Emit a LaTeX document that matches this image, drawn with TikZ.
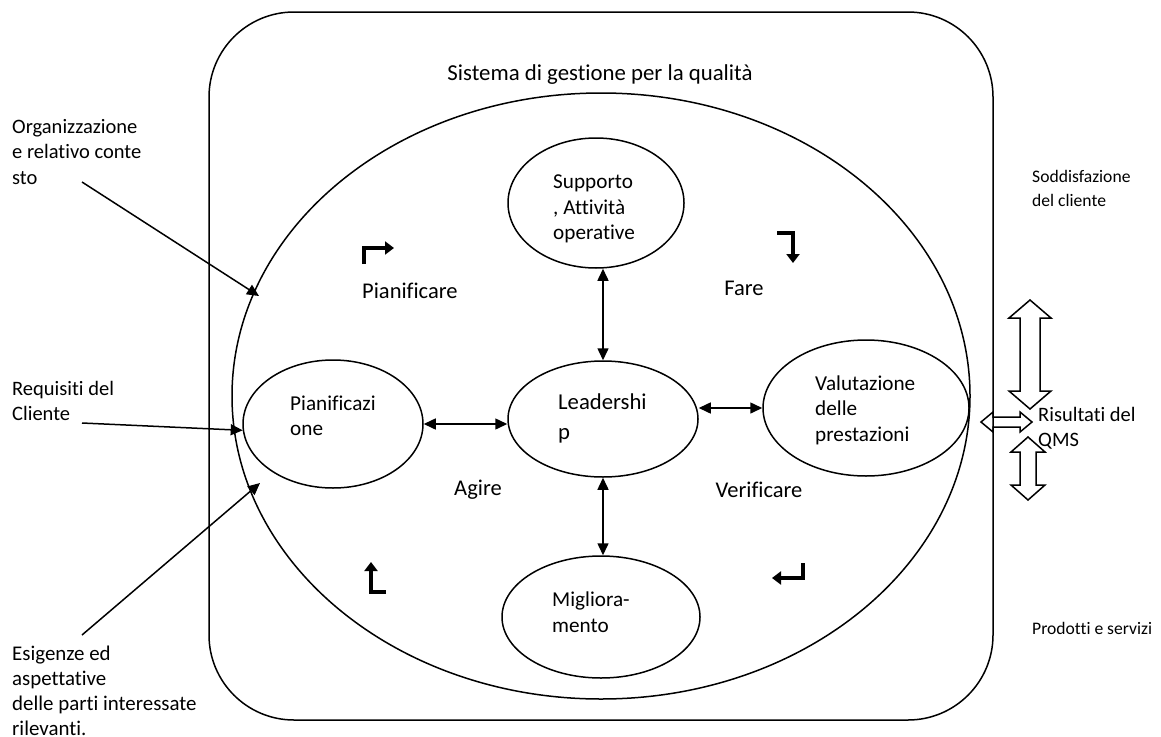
\documentclass[tikz,border=0pt]{standalone}
\usepackage{fontspec}
\setmainfont{Carlito}[Ligatures=NoCommon]
\usetikzlibrary{arrows.meta,shapes.geometric}
\begin{document}
\begin{tikzpicture}[x=1pt,y=-1pt,
  lbl/.style={inner sep=0, align=left, font=\fontsize{20.5}{25.5}\selectfont},
  small/.style={inner sep=0, align=left, font=\fontsize{17.6}{24}\selectfont},
  intext/.style={inner sep=0, align=left, font=\fontsize{21.2}{25.5}\selectfont},
  pdca/.style={inner sep=0, font=\fontsize{22.5}{27}\selectfont},
  oval/.style={draw, ellipse, line width=1.5, inner sep=0},
  conn/.style={line width=1.5, {Triangle[length=12,width=11]}-{Triangle[length=12,width=11]}},
  inarrow/.style={line width=1.5, -{Triangle[length=12,width=11]}},
  bent/.style={line width=3.5, -{Triangle[length=9,width=13]}},
  block/.style={draw, line width=1.5, line join=miter}]
\useasboundingbox (0,0) rectangle (1161,736);
% outer system box
\node[draw, line width=1.5, rounded corners=85, minimum width=784, minimum height=708, inner sep=0] (qms) at (601,366) {};
\node[inner sep=0, font=\fontsize{22.8}{27}\selectfont] (title) at (600,75) {Sistema di gestione per la qualità};
% big ellipse
\node[draw, ellipse, line width=1.5, minimum width=738, minimum height=606, inner sep=0] (big) at (601,396) {};
% inner ellipses
\node[oval, minimum width=176, minimum height=130] (sup) at (596,203) {};
\node[oval, minimum width=180, minimum height=128] (pian) at (333,424) {};
\node[oval, minimum width=190, minimum height=116] (lead) at (603,419) {};
\node[oval, minimum width=206, minimum height=136] (val) at (866,408) {};
\node[oval, minimum width=198, minimum height=122] (mig) at (601,617) {};
% ellipse texts
\node[intext, anchor=west] (supt) at (553,209) {Supporto\\, Attività\\operative};
\node[intext, anchor=west] (piant) at (290,416) {Pianificazi\\one};
\node[inner sep=0, align=left, font=\fontsize{22.7}{30}\selectfont, anchor=west] (leadt) at (558,418) {Leadershi\\p};
\node[intext, anchor=west] (valt) at (815,410) {Valutazione\\delle\\prestazioni};
\node[intext, anchor=west] (migt) at (552,612) {Migliora-\\mento};
% connectors
\draw[conn] (lead.north) -- (lead.north |- sup.south);
\draw[conn] (pian.east) -- (pian.east -| lead.west);
\draw[conn] (lead.east |- val.west) -- (val.west);
\draw[conn] (lead.south) -- (lead.south |- mig.north);
% PDCA labels
\node[pdca, anchor=west] (plan) at (362,291) {Pianificare};
\node[pdca] (do) at (744,288) {Fare};
\node[pdca] (act) at (478,490) {Agire};
\node[pdca] (check) at (759,490) {Verificare};
% bent arrows
\draw[bent] (364,264) -- (364,248) -- (394,248);
\draw[bent] (777,233) -- (793,233) -- (793,263);
\draw[bent] (386,592) -- (371,592) -- (371,562);
\draw[bent] (803,563) -- (803,578) -- (772,578);
% left labels and inputs
\node[lbl, anchor=west] (org) at (12,152) {Organizzazione\\e relativo conte\\sto};
\node[lbl, anchor=west] (req) at (12,401) {Requisiti del\\Cliente};
\node[lbl, anchor=west, font=\fontsize{20.9}{25}\selectfont] (esi) at (12,691) {Esigenze ed\\aspettative\\delle parti interessate\\rilevanti.};
\coordinate (o1) at (82,182);
\coordinate (o2) at (259,296);
\coordinate (r1) at (82,423);
\coordinate (e1) at (82,635);
\coordinate (e2) at (260,483);
\draw[inarrow] (o1) -- (o2);
\draw[inarrow] (r1) -- (pian.184);
\draw[inarrow] (e1) -- (e2);
% right labels
\node[small, anchor=west] (sod) at (1032,188) {Soddisfazione\\del cliente};
\node[lbl, anchor=west] (ris) at (1038,428) {Risultati del\\QMS};
\node[small, anchor=west] (prod) at (1032,628) {Prodotti e servizi};
% block arrows
\draw[block] (1030,300) -- (1051,318) -- (1040,318) -- (1040,391) -- (1051,391) -- (1030,409) -- (1009,391) -- (1020,391) -- (1020,318) -- (1009,318) -- cycle;
\draw[block] (1028,437) -- (1045,452) -- (1036,452) -- (1036,485) -- (1045,485) -- (1028,500) -- (1011,485) -- (1020,485) -- (1020,452) -- (1011,452) -- cycle;
\draw[block] (981,422) -- (993,412) -- (993,417) -- (1020,417) -- (1020,412) -- (1032,422) -- (1020,432) -- (1020,427) -- (993,427) -- (993,432) -- cycle;
\end{tikzpicture}
\end{document}
